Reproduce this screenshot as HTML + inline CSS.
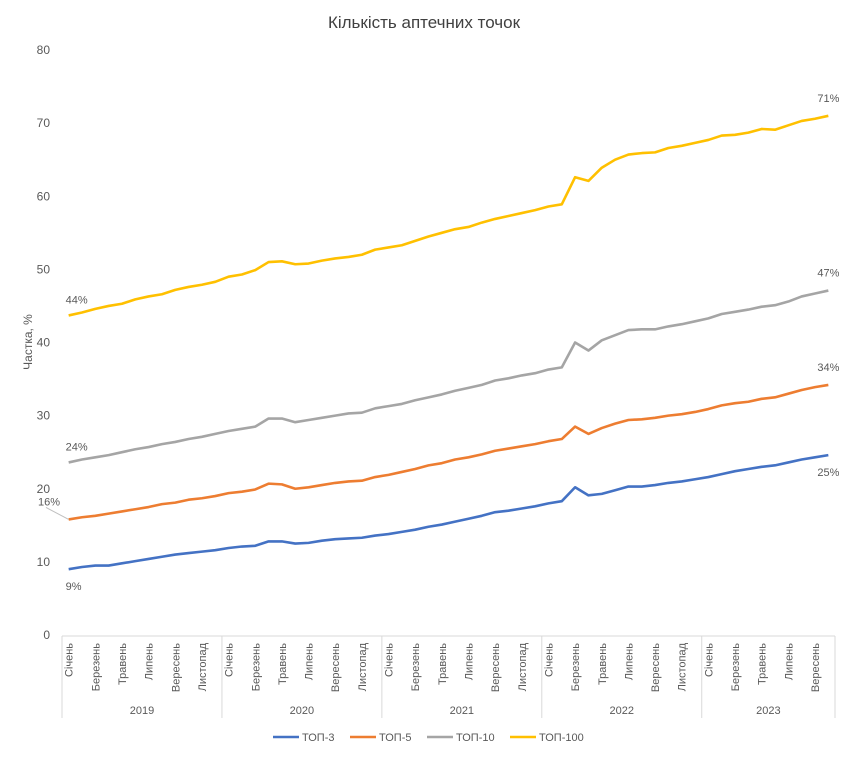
<!DOCTYPE html>
<html><head><meta charset="utf-8"><style>
body{margin:0;background:#fff;width:850px;height:757px;overflow:hidden;font-family:"Liberation Sans",sans-serif}
svg text{font-family:"Liberation Sans",sans-serif;fill:#595959}
</style></head><body>
<svg id="chart" width="850" height="757" viewBox="0 0 850 757" xmlns="http://www.w3.org/2000/svg">
<text x="424" y="28" text-anchor="middle" font-size="17" style="fill:#404040">Кількість аптечних точок</text>
<text transform="translate(32,342) rotate(-90)" text-anchor="middle" font-size="12">Частка, %</text>
<g id="yaxis"></g>
<g id="xaxis"></g>
<g id="series"></g>
<g id="labels"></g>
<g id="legend"></g>
</svg>
<script>
const years = ["2019","2020","2021","2022","2023"];
const monthNames = ["Січень","Лютий","Березень","Квітень","Травень","Червень","Липень","Серпень","Вересень","Жовтень","Листопад","Грудень"];
const yTicks = [0,10,20,30,40,50,60,70,80];
const top3 = [9.0,9.3,9.5,9.5,9.8,10.1,10.4,10.7,11.0,11.2,11.4,11.6, 11.9,12.1,12.2,12.8,12.8,12.5,12.6,12.9,13.1,13.2,13.3,13.6, 13.8,14.1,14.4,14.8,15.1,15.5,15.9,16.3,16.8,17.0,17.3,17.6, 18.0,18.3,20.2,19.1,19.3,19.8,20.3,20.3,20.5,20.8,21.0,21.3, 21.6,22.0,22.4,22.7,23.0,23.2,23.6,24.0,24.3,24.6];
const top5 = [15.8,16.1,16.3,16.6,16.9,17.2,17.5,17.9,18.1,18.5,18.7,19.0, 19.4,19.6,19.9,20.7,20.6,20.0,20.2,20.5,20.8,21.0,21.1,21.6, 21.9,22.3,22.7,23.2,23.5,24.0,24.3,24.7,25.2,25.5,25.8,26.1, 26.5,26.8,28.5,27.5,28.3,28.9,29.4,29.5,29.7,30.0,30.2,30.5, 30.9,31.4,31.7,31.9,32.3,32.5,33.0,33.5,33.9,34.2];
const top10 = [23.6,24.0,24.3,24.6,25.0,25.4,25.7,26.1,26.4,26.8,27.1,27.5, 27.9,28.2,28.5,29.6,29.6,29.1,29.4,29.7,30.0,30.3,30.4,31.0, 31.3,31.6,32.1,32.5,32.9,33.4,33.8,34.2,34.8,35.1,35.5,35.8, 36.3,36.6,40.0,38.9,40.3,41.0,41.7,41.8,41.8,42.2,42.5,42.9, 43.3,43.9,44.2,44.5,44.9,45.1,45.6,46.3,46.7,47.1];
const top100 = [43.7,44.1,44.6,45.0,45.3,45.9,46.3,46.6,47.2,47.6,47.9,48.3, 49.0,49.3,49.9,51.0,51.1,50.7,50.8,51.2,51.5,51.7,52.0,52.7, 53.0,53.3,53.9,54.5,55.0,55.5,55.8,56.4,56.9,57.3,57.7,58.1, 58.6,58.9,62.6,62.1,63.9,65.0,65.7,65.9,66.0,66.6,66.9,67.3, 67.7,68.3,68.4,68.7,69.2,69.1,69.7,70.3,70.6,71.0];
const seriesNames = ["ТОП-3","ТОП-5","ТОП-10","ТОП-100"];
const firstLabels = ["9%","16%","24%","44%"];
const lastLabels = ["25%","34%","47%","71%"];
const colors = ["#4472C4","#ED7D31","#A5A5A5","#FFC000"];

const NS="http://www.w3.org/2000/svg";
const X0=62, X1=835, Y0=635, Ymax=50;
const N=top3.length;
const step=(X1-X0)/N;
function xScale(i){return X0+step*(i+0.5);}
function yScale(v){return Y0-(Y0-Ymax)*v/80;}
function mk(tag,attrs,parent){const e=document.createElementNS(NS,tag);for(const k in attrs)e.setAttribute(k,attrs[k]);parent.appendChild(e);return e;}

const ya=document.getElementById('yaxis');
yTicks.forEach(t=>{const e=mk('text',{x:50,y:yScale(t)+4,'text-anchor':'end','font-size':12},ya);


e.textContent=t;});

const xa=document.getElementById('xaxis');
const al=mk('line',{x1:X0,y1:Y0+1,x2:X1,y2:Y0+1,stroke:'#d9d9d9'},xa);


for(let i=0;i<N;i++){
  if(i%2===0){
    const x=xScale(i);
    const t=mk('text',{transform:`translate(${x+4},643) rotate(-90)`,'text-anchor':'end','font-size':11},xa);
    
    
    t.textContent=monthNames[i%12];
  }
}
years.forEach((yr,k)=>{
  const xs=X0+k*12*step;
  const xe=Math.min(X0+(k+1)*12*step,X1);
  const d=mk('line',{x1:xs,y1:Y0+1,x2:xs,y2:718,stroke:'#d9d9d9'},xa);
  
  
  const t=mk('text',{x:(xs+xe)/2,y:714,'text-anchor':'middle','font-size':11},xa);
  
  
  t.textContent=yr;
});
const dl=mk('line',{x1:X1,y1:Y0+1,x2:X1,y2:718,stroke:'#d9d9d9'},xa);



const sg=document.getElementById('series');
const lg=document.getElementById('labels');
const all=[top3,top5,top10,top100];
all.forEach((arr,s)=>{
  const p=mk('polyline',{points:arr.map((v,i)=>xScale(i)+','+yScale(v)).join(' '),fill:'none',stroke:colors[s],'stroke-width':2.6,'stroke-linejoin':'round'},sg);
  
  
  const fy=yScale(arr[0]);
  let fx=xScale(0)-3, fyl=fy-12;
  if(s===0){fyl=fy+21;}
  if(s===1){fx=38;fyl=fy-14;
    const ll=mk('line',{x1:46,y1:fy-12,x2:xScale(0),y2:fy,stroke:'#bfbfbf'},lg);
    
    }
  const f=mk('text',{x:fx,y:fyl,'font-size':11},lg);
  
  
  f.textContent=firstLabels[s];
  const ly=yScale(arr[N-1]);
  const l=mk('text',{x:xScale(N-1)-11,y:s===0?ly+21:ly-14,'font-size':11},lg);
  
  
  l.textContent=lastLabels[s];
});

const leg=document.getElementById('legend');
const lx=[273,350,427,510];
seriesNames.forEach((n,s)=>{
  const g=mk('g',{},leg);
  
  
  mk('line',{x1:lx[s],y1:737,x2:lx[s]+26,y2:737,stroke:colors[s],'stroke-width':2.6},g);
  const t=mk('text',{x:lx[s]+29,y:741,'font-size':11},g);
  t.textContent=n;
});
</script>
</body></html>
